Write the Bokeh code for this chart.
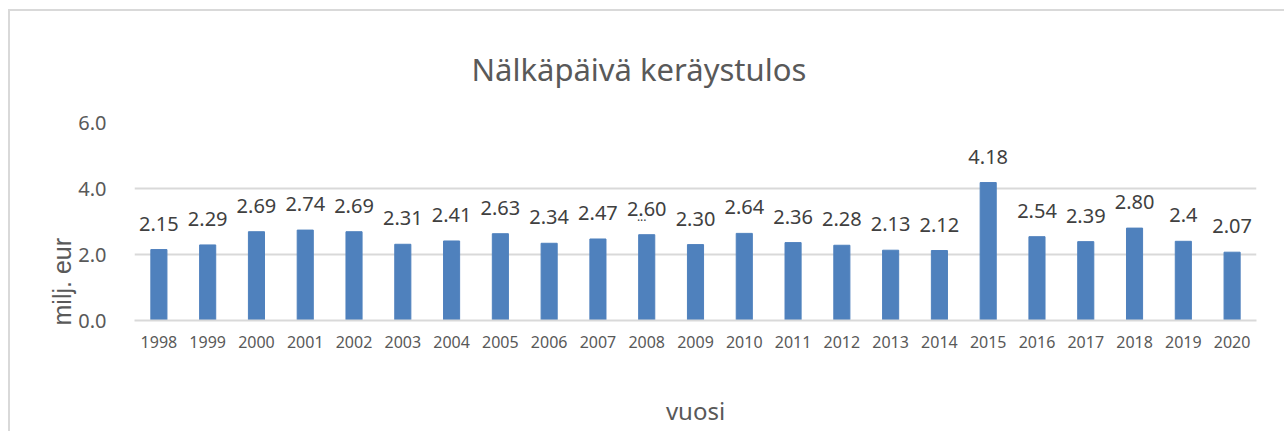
from bokeh.plotting import figure
from bokeh.models import FixedTicker, Range1d, FactorRange, Title, CustomJSTickFormatter
from bokeh.embed import file_html
from bokeh.resources import INLINE
from bokeh.core.properties import value

years = ["1998", "1999", "2000", "2001", "2002", "2003", "2004", "2005", "2006", "2007", "2008",
         "2009", "2010", "2011", "2012", "2013", "2014", "2015", "2016", "2017", "2018", "2019", "2020"]
amounts = [2.15, 2.29, 2.69, 2.74, 2.69, 2.31, 2.41, 2.63, 2.34, 2.47, 2.60,
           2.30, 2.64, 2.36, 2.28, 2.13, 2.12, 4.18, 2.54, 2.39, 2.80, 2.4, 2.07]
amount_labels = ["2.15", "2.29", "2.69", "2.74", "2.69", "2.31", "2.41", "2.63", "2.34", "2.47", "2.60",
                 "2.30", "2.64", "2.36", "2.28", "2.13", "2.12", "4.18", "2.54", "2.39", "2.80", "2.4", "2.07"]
y_ticks = [0, 2, 4, 6]
title_text = "Nälkäpäivä keräystulos"
x_title = "vuosi"
y_title = "milj. eur"

FONT = "Noto Sans"
GRAY = "#595959"
DARK = "#404040"

W, H = 1276, 422
p = figure(x_range=FactorRange(*years), y_range=Range1d(0, 6),
           width=W, height=H, output_backend="svg", toolbar_location=None,
           min_border_left=123, min_border_right=30, min_border_top=111, min_border_bottom=113)
p.styles = {"border-left": "2px solid #d9d9d9", "border-top": "2px solid #d9d9d9",
            "margin-left": "8px", "margin-top": "9px"}
p.outline_line_color = None
p.background_fill_color = "white"
p.border_fill_color = "white"

p.vbar(x=years, top=amounts, width=0.33, color="#4F81BD")

# data labels
p.text(x=years, y=amounts, text=amount_labels, y_offset=-26, text_align="center",
       text_baseline="middle", text_font=value(FONT), text_font_size="20px", text_color=DARK)
p.text(x=["2008"], y=[2.60], text=["..."], x_offset=-5, y_offset=-18, text_align="center",
       text_baseline="middle", text_font=value(FONT), text_font_size="12px", text_color=DARK)

p.yaxis.ticker = FixedTicker(ticks=y_ticks)
p.yaxis.formatter = CustomJSTickFormatter(code="return tick.toFixed(1);")
p.yaxis.axis_line_color = None
p.yaxis.major_tick_line_color = None
p.yaxis.minor_tick_line_color = None
p.yaxis.major_label_text_font = FONT
p.yaxis.major_label_text_font_size = "20px"
p.yaxis.major_label_text_color = GRAY
p.yaxis.major_label_standoff = 22

p.xaxis.axis_line_color = "#d9d9d9"
p.xaxis.axis_line_width = 2
p.xaxis.major_tick_line_color = None
p.xaxis.minor_tick_line_color = None
p.xaxis.major_label_text_font = FONT
p.xaxis.major_label_text_font_size = "16px"
p.xaxis.major_label_text_color = GRAY
p.xaxis.major_label_standoff = 9
p.xaxis.axis_label = x_title
p.xaxis.axis_label_text_font = FONT
p.xaxis.axis_label_text_font_style = "normal"
p.xaxis.axis_label_text_font_size = "24px"
p.xaxis.axis_label_text_color = GRAY
p.xaxis.axis_label_standoff = 43

p.xgrid.grid_line_color = None
p.ygrid.grid_line_color = "#d9d9d9"
p.ygrid.grid_line_width = 2

p.add_layout(Title(text=title_text, align="left", offset=337, standoff=65,
                   text_font=FONT, text_font_size="31px", text_font_style="normal",
                   text_color=GRAY), "above")
p.add_layout(Title(text=y_title, align="left", offset=-5, standoff=0,
                   text_font="Liberation Sans", text_font_size="25px", text_font_style="normal",
                   text_color=GRAY), "left")
# small spacer on the far left so that the y-axis title sits closer to the tick labels
p.add_layout(Title(text=" ", text_font_size="1px", standoff=32), "left")

open("out.html", "w").write(file_html(p, INLINE))
